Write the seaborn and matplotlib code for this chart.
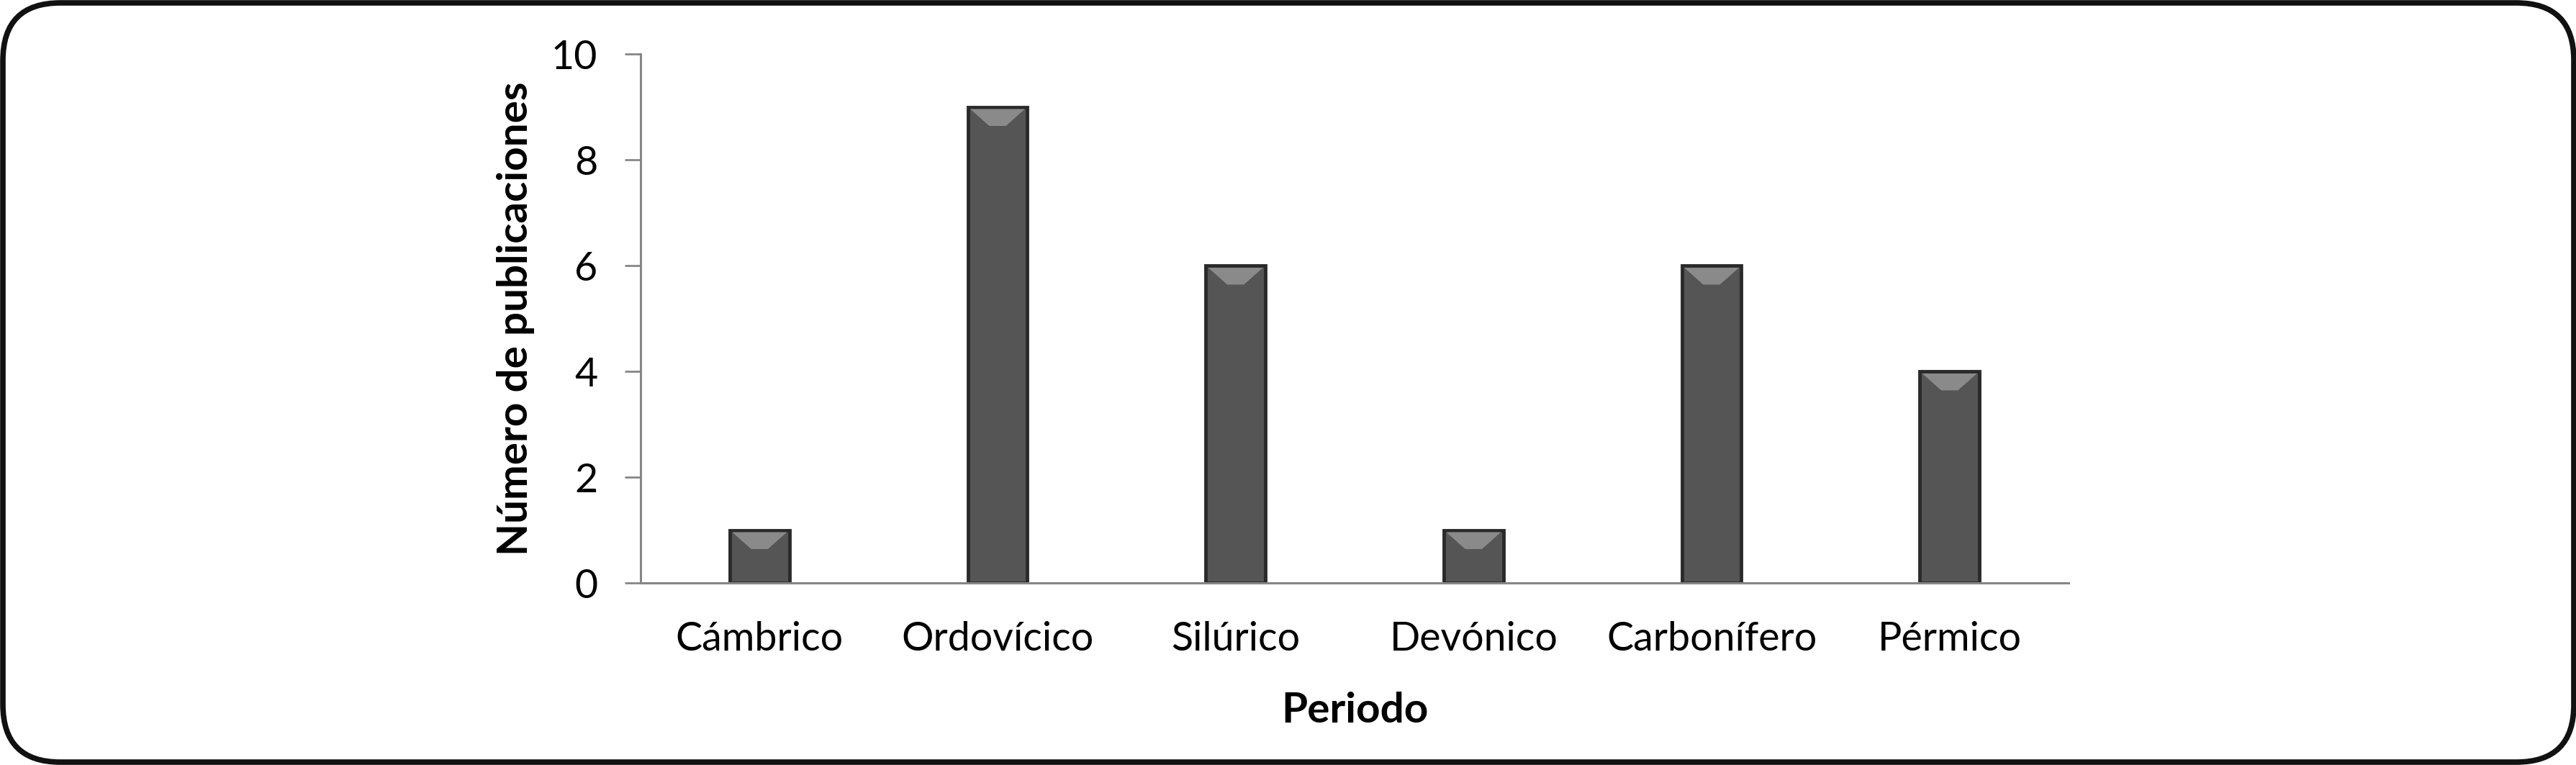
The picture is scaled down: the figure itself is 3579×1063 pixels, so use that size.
import matplotlib
matplotlib.use("Agg")
import matplotlib.pyplot as plt
from matplotlib.patches import FancyBboxPatch, Polygon
from matplotlib.transforms import IdentityTransform
import pandas as pd
import seaborn as sns

periodos = ["Cámbrico", "Ordovícico", "Silúrico", "Devónico", "Carbonífero", "Pérmico"]
publicaciones = [1, 9, 6, 1, 6, 4]
y_ticks = [0, 2, 4, 6, 8, 10]

sns.set_theme(style="white")
plt.rcParams["font.family"] = ["Lato", "DejaVu Sans"]

df = pd.DataFrame({"Periodo": periodos, "Publicaciones": publicaciones})

fig = plt.figure(figsize=(35.8, 10.63), dpi=100)
ax = fig.add_axes([0.2486, 0.238, 0.5542, 0.6914])

sns.barplot(data=df, x="Periodo", y="Publicaciones", color="#555555",
            saturation=1, width=0.25, edgecolor="#2a2a2a", linewidth=3.5,
            ax=ax)

# bevel on top of each bar (like the Excel style)
for p in list(ax.patches):
    x0, w, h = p.get_x(), p.get_width(), p.get_height()
    inset = 0.36 * w
    bh = 0.36
    bev = Polygon([(x0 + 0.04 * w, h - 0.04), (x0 + 0.96 * w, h - 0.04),
                   (x0 + w - inset, h - bh), (x0 + inset, h - bh)],
                  closed=True, facecolor="#8a8a8a", edgecolor="none", zorder=3)
    ax.add_patch(bev)

ax.set_ylim(0, 10)
ax.set_yticks(y_ticks)
ax.set_yticklabels([str(t) for t in y_ticks])

for side in ["top", "right"]:
    ax.spines[side].set_visible(False)
for side in ["left", "bottom"]:
    ax.spines[side].set_color("#868686")
    ax.spines[side].set_linewidth(2.2)

ax.tick_params(axis="y", length=16, width=2, color="#868686", direction="out",
               pad=27, labelsize=40, labelcolor="black", left=True)
ax.tick_params(axis="x", length=0, pad=38, labelsize=40, labelcolor="black")

ax.set_ylabel("Número de publicaciones", fontsize=42, fontweight="bold", color="black")
ax.yaxis.set_label_coords(-0.074, 0.5)
ax.set_xlabel("Periodo", fontsize=42, fontweight="bold", color="black")
ax.xaxis.set_label_coords(0.5, -0.205)

# rounded frame around the whole picture
frame = FancyBboxPatch((4, 4), 3572, 1055, boxstyle="round,pad=0,rounding_size=80",
                       transform=IdentityTransform(), facecolor="none",
                       edgecolor="#111111", linewidth=5.5)
fig.patches.append(frame)

fig.savefig("out.png", dpi=100, facecolor="white")
